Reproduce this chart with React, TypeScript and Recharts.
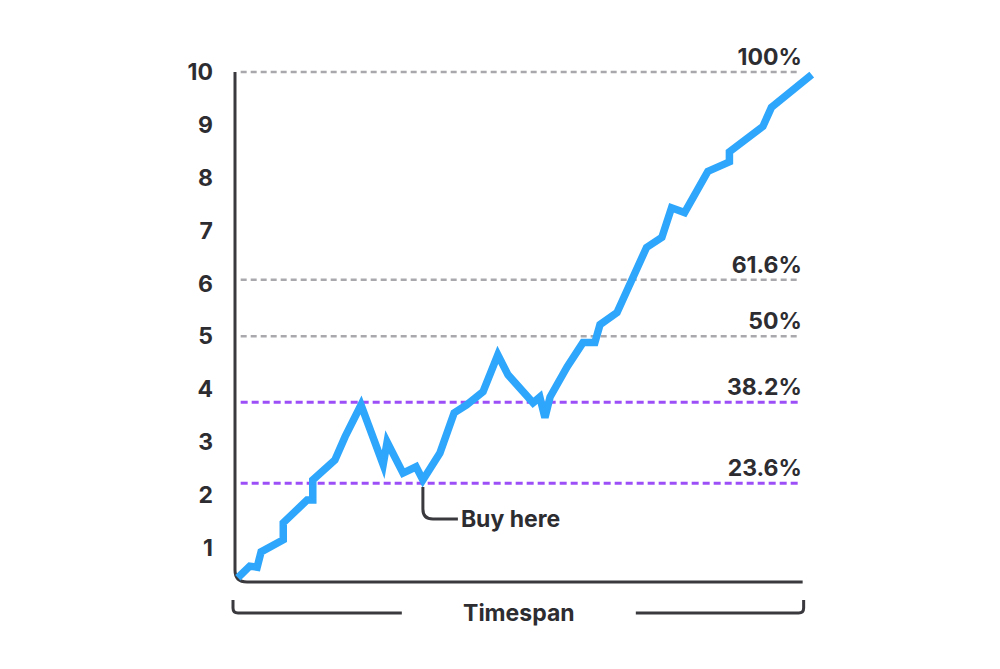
import React from 'react';
import { LineChart, Line, XAxis, YAxis, ReferenceLine, ReferenceDot } from 'recharts';

// price path, x in "timespan" units (0..100 = axis length), y in price
const T = [0.5, 2.6, 3.9, 4.6, 8.5, 8.5, 12.7, 13.7, 13.7, 17.6, 19.4, 22.2, 26.1, 26.8, 29.6, 31.9, 33.1, 36.1, 38.6, 40.8, 43.7, 46.3, 48.1, 52.5, 53.7, 54.6, 55.5, 58.5, 61.3, 63.4, 64.3, 67.3, 72.5, 75.2, 76.9, 79.2, 83.3, 87.1, 87.1, 93.0, 94.5, 101.6];
const PRICE = [0.43, 0.65, 0.63, 0.92, 1.15, 1.47, 1.9, 1.9, 2.28, 2.66, 3.1, 3.7, 2.57, 3.0, 2.41, 2.53, 2.28, 2.79, 3.55, 3.7, 3.95, 4.65, 4.27, 3.74, 3.85, 3.46, 3.85, 4.42, 4.88, 4.88, 5.22, 5.45, 6.68, 6.87, 7.43, 7.34, 8.12, 8.3, 8.49, 8.97, 9.33, 9.95];

const Y_TICKS = [1, 2, 3, 4, 5, 6, 7, 8, 9, 10];
const Y_MIN = 0.35;
const Y_MAX = 10;
const X_END = 100;
const X_MAX = 102;

const LEVEL_LABELS = ['100%', '61.6%', '50%', '38.2%', '23.6%'];
const LEVEL_VALUES = [10, 6.07, 5.0, 3.75, 2.22];
const LEVEL_KIND = ['gray', 'gray', 'gray', 'purple', 'purple'];

const BUY_T = 33.1;
const BUY_PRICE = 2.28;
const BUY_LABEL = 'Buy here';
const X_LABEL = 'Timespan';

const data = T.map((t, i) => ({ t, v: PRICE[i] }));

const FONT = 'Inter, "Noto Sans", sans-serif';
const INK = '#2d2d31';
const AXIS = '#3a3a3e';
const BLUE = '#2ea6fb';
const GRAY = '#a9a9ad';
const PURPLE = '#9c4ff7';
const FS = 23;
const FW = 700;

const AxisFrame = (props: any) => {
  const { x1, y1, x2, y2 } = props;
  const r = 12;
  const mid = (x1 + x2) / 2;
  const by = y2 + 31;
  return (
    <g>
      <path
        d={`M${x1},${y1} V${y2 - r} Q${x1},${y2} ${x1 + r},${y2} H${x2}`}
        fill="none"
        stroke={AXIS}
        strokeWidth={3}
      />
      <path
        d={`M${x1 - 2},${by - 13} V${by - 5} Q${x1 - 2},${by} ${x1 + 3},${by} H${mid - 117}`}
        fill="none"
        stroke={AXIS}
        strokeWidth={3}
      />
      <path
        d={`M${mid + 117},${by} H${x2 - 4} Q${x2 + 1},${by} ${x2 + 1},${by - 5} V${by - 13}`}
        fill="none"
        stroke={AXIS}
        strokeWidth={3}
      />
      <text x={mid} y={by + 8} textAnchor="middle" fontFamily={FONT} fontSize={FS} fontWeight={FW} fill={INK}>
        {X_LABEL}
      </text>
    </g>
  );
};

const levelShape = (label: string, kind: string) => (props: any) => {
  const { x1, y1, x2 } = props;
  const purple = kind === 'purple';
  return (
    <g>
      <line
        x1={x1}
        y1={y1}
        x2={x2}
        y2={y1}
        stroke={purple ? PURPLE : GRAY}
        strokeWidth={purple ? 3 : 2.5}
        strokeDasharray={purple ? '7 4' : '6 4'}
      />
      <text x={x2 + 2} y={y1 - 7} textAnchor="end" fontFamily={FONT} fontSize={FS} fontWeight={FW} fill={INK}>
        {label}
      </text>
    </g>
  );
};

const BuyCallout = (props: any) => {
  const { cx, cy } = props;
  return (
    <g>
      <path
        d={`M${cx},${cy + 7} V${cy + 29} Q${cx},${cy + 39} ${cx + 10},${cy + 39} H${cx + 35}`}
        fill="none"
        stroke={AXIS}
        strokeWidth={3}
      />
      <text x={cx + 38} y={cy + 47} fontFamily={FONT} fontSize={FS} fontWeight={FW} fill={INK}>
        {BUY_LABEL}
      </text>
    </g>
  );
};

export default function App() {
  return (
    <div style={{ width: 984, height: 653, fontFamily: FONT }}>
      <LineChart width={984} height={653} data={data} margin={{ top: 64, right: 178, bottom: 79, left: 0 }}>
        <XAxis dataKey="t" type="number" domain={[0, X_MAX]} hide />
        <YAxis
          type="number"
          domain={[Y_MIN, Y_MAX]}
          ticks={Y_TICKS}
          width={227}
          axisLine={false}
          tickLine={false}
          tickSize={0}
          tickMargin={22}
          tick={{ fontFamily: FONT, fontSize: FS, fontWeight: FW, fill: INK }}
        />
        <ReferenceLine
          segment={[
            { x: 0, y: Y_MAX },
            { x: X_END, y: Y_MIN },
          ]}
          shape={AxisFrame}
        />
        {LEVEL_VALUES.map((v, i) => (
          <ReferenceLine
            key={LEVEL_LABELS[i]}
            segment={[
              { x: 1, y: v },
              { x: 99.5, y: v },
            ]}
            shape={levelShape(LEVEL_LABELS[i], LEVEL_KIND[i])}
          />
        ))}
        <Line
          type="linear"
          dataKey="v"
          stroke={BLUE}
          strokeWidth={7.5}
          dot={false}
          activeDot={false}
          isAnimationActive={false}
        />
        <ReferenceDot x={BUY_T} y={BUY_PRICE} shape={BuyCallout} />
      </LineChart>
    </div>
  );
}
